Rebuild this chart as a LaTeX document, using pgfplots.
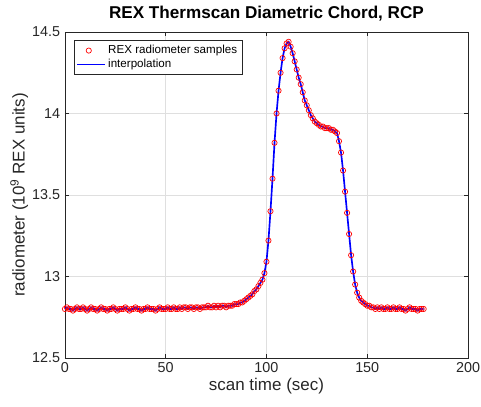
\documentclass[border=0pt]{standalone}
\usepackage{pgfplots}
\usepackage{pgfplotstable}
\pgfplotsset{compat=1.18}
\usepackage{fontspec}
\setmainfont{Liberation Sans}
\definecolor{axgray}{rgb}{0.15,0.15,0.15}
\pgfplotsset{shortline/.style={legend image code/.code={\draw[##1, line width=1.2pt] (0pt,0pt) -- (20pt,0pt);}}}
\pgfplotstableread{
t v
0 12.80
1 12.81
2 12.80
3 12.80
4 12.79
5 12.80
6 12.81
7 12.80
8 12.80
9 12.81
10 12.80
11 12.79
12 12.80
13 12.81
14 12.80
15 12.80
16 12.79
17 12.80
18 12.81
19 12.80
20 12.80
21 12.79
22 12.80
23 12.80
24 12.81
25 12.80
26 12.79
27 12.80
28 12.80
29 12.80
30 12.81
31 12.80
32 12.79
33 12.80
34 12.80
35 12.81
36 12.80
37 12.80
38 12.79
39 12.80
40 12.80
41 12.81
42 12.80
43 12.80
44 12.80
45 12.79
46 12.80
47 12.81
48 12.80
49 12.80
50 12.80
51 12.81
52 12.80
53 12.80
54 12.81
55 12.80
56 12.80
57 12.81
58 12.80
59 12.81
60 12.81
61 12.80
62 12.81
63 12.81
64 12.80
65 12.81
66 12.81
67 12.80
68 12.81
69 12.81
70 12.81
71 12.82
72 12.81
73 12.81
74 12.82
75 12.81
76 12.82
77 12.81
78 12.82
79 12.82
80 12.81
81 12.82
82 12.82
83 12.82
84 12.83
85 12.83
86 12.83
87 12.84
88 12.84
89 12.85
90 12.86
91 12.87
92 12.88
93 12.89
94 12.91
95 12.92
96 12.94
97 12.96
98 12.98
99 13.02
100 13.09
101 13.22
102 13.40
103 13.60
104 13.82
105 14.00
106 14.14
107 14.25
108 14.34
109 14.40
110 14.43
111 14.44
112 14.41
113 14.37
114 14.32
115 14.27
116 14.22
117 14.18
118 14.13
119 14.08
120 14.05
121 14.02
122 13.99
123 13.97
124 13.95
125 13.94
126 13.93
127 13.92
128 13.92
129 13.91
130 13.91
131 13.91
132 13.90
133 13.90
134 13.89
135 13.88
136 13.83
137 13.76
138 13.65
139 13.52
140 13.39
141 13.26
142 13.13
143 13.03
144 12.95
145 12.90
146 12.87
147 12.85
148 12.84
149 12.83
150 12.82
151 12.82
152 12.81
153 12.81
154 12.80
155 12.81
156 12.80
157 12.81
158 12.80
159 12.80
160 12.81
161 12.80
162 12.80
163 12.81
164 12.80
165 12.80
166 12.81
167 12.80
168 12.80
169 12.79
170 12.80
171 12.81
172 12.80
173 12.80
174 12.80
175 12.79
176 12.80
177 12.80
178 12.80
}\rexdata
\begin{document}
\begin{tikzpicture}
\begin{axis}[
  scale only axis,
  width=292pt, height=236pt,
  xmin=0, xmax=200, ymin=12.5, ymax=14.5,
  xtick={0,50,100,150,200},
  ytick={12.5,13,13.5,14,14.5},
  /pgf/number format/assume math mode=true,
  tick label style={font=\fontsize{10.4}{12}\selectfont, text=axgray},
  label style={font=\fontsize{12.3}{14}\selectfont, text=axgray},
  title style={font=\fontsize{12.4}{14}\selectfont\bfseries, yshift=-2pt},
  title={REX Thermscan Diametric Chord, RCP},
  xlabel={scan time (sec)},
  ylabel={radiometer (10\textsuperscript{9} REX units)},
  xlabel style={yshift=3pt},
  ylabel style={yshift=-4pt},
  grid=major,
  major grid style={gray!25, line width=0.4pt},
  axis line style={axgray, line width=0.5pt},
  tick style={axgray, line width=0.5pt},
  tick align=inside,
  major tick length=3pt,
  legend style={at={(0.022,0.975)}, anchor=north west, font=\fontsize{8.4}{10}\selectfont,
    draw=axgray, line width=0.5pt, inner sep=1.5pt, row sep=-1.5pt, cells={anchor=west}},
  legend cell align=left,
]
\addplot[only marks, mark=o, mark size=1.9pt, red, mark options={line width=0.5pt}] table[x=t, y=v] {\rexdata};
\addlegendentry{REX radiometer samples}
\addplot[blue, line width=1.2pt, mark=none, shortline] table[x=t, y=v] {\rexdata};
\addlegendentry{interpolation}
\end{axis}
\pgfresetboundingbox
\path[use as bounding box] ([xshift=-47pt, yshift=-35.5pt]current axis.south west) rectangle ([xshift=9.4pt, yshift=23.2pt]current axis.north east);
\end{tikzpicture}
\end{document}
